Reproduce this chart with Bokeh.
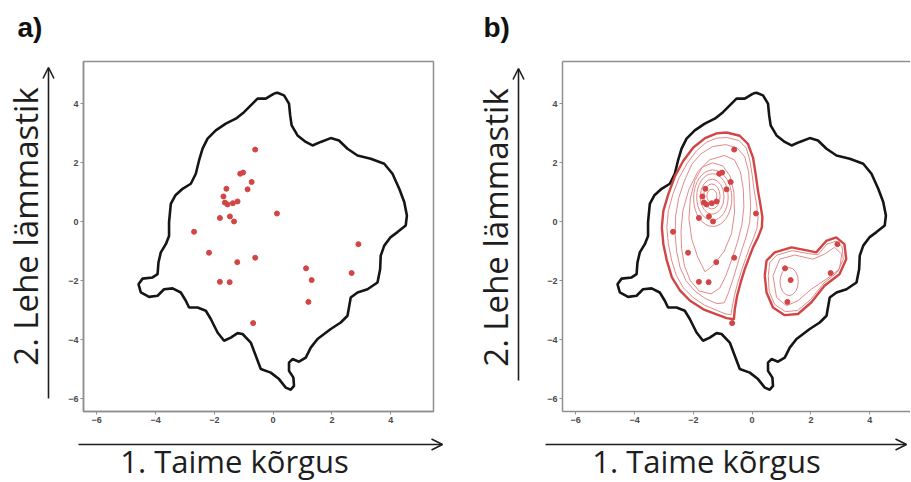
import math
from bokeh.plotting import figure
from bokeh.layouts import row, column
from bokeh.models import Range1d, FixedTicker, LinearAxis, Arrow, OpenHead, Label
from bokeh.embed import file_html
from bokeh.resources import INLINE

# ---------------- data ----------------
tick_values = [-6, -4, -2, 0, 2, 4]

pt_x = [-0.61, -1.12, -1.02, -0.73, -0.87, -1.59, -1.69, -1.64, -1.55, -1.37, -1.21,
        -1.81, -1.47, -1.33, 0.13, -2.69, -2.18, -1.22, -0.61, -1.81, -1.48, -0.68,
        1.12, 1.31, 1.20, 2.67, 2.90]
pt_y = [2.45, 1.63, 1.67, 1.35, 1.10, 1.12, 0.86, 0.65, 0.59, 0.63, 0.69,
        0.13, 0.18, 0.01, 0.28, -0.34, -1.05, -1.37, -1.22, -2.04, -2.05, -3.44,
        -1.58, -1.98, -2.72, -1.74, -0.76]

hull_x = [0.03, 0.15, 0.37, 0.54, 0.58, 0.63, 0.83, 1.11, 1.34, 1.62, 1.96, 2.24, 2.53, 2.87,
          3.32, 3.78, 4.06, 4.29, 4.46, 4.55, 4.51, 4.23, 4.00, 3.78, 3.66, 3.64, 3.55, 3.21,
          2.87, 2.64, 2.59, 2.53, 2.30, 1.96, 1.51, 1.28, 1.11, 0.88, 0.66, 0.54, 0.54, 0.69,
          0.71, 0.60, 0.43, 0.20, -0.08, -0.42, -0.59, -0.76, -1.04, -1.21, -1.44, -1.67, -1.89,
          -2.12, -2.29, -2.57, -2.86, -2.97, -3.14, -3.42, -3.71, -3.93, -4.22, -4.50, -4.58,
          -4.44, -4.10, -3.93, -3.90, -3.82, -3.65, -3.54, -3.54, -3.48, -3.33, -3.08, -2.80,
          -2.63, -2.52, -2.40, -2.23, -1.95, -1.61, -1.27, -0.99, -0.70, -0.53, -0.25, 0.03]
hull_y = [4.35, 4.38, 4.29, 4.01, 3.61, 3.27, 2.93, 2.71, 2.59, 2.71, 2.84, 2.76, 2.48, 2.25,
          2.14, 1.97, 1.63, 1.12, 0.67, 0.21, -0.13, -0.35, -0.52, -0.81, -1.15, -1.61, -2.06,
          -2.29, -2.40, -2.57, -2.85, -3.19, -3.42, -3.64, -3.98, -4.27, -4.61, -4.75, -4.66,
          -4.78, -5.06, -5.29, -5.57, -5.70, -5.63, -5.34, -5.12, -5.00, -4.55, -4.10, -3.81,
          -3.78, -3.93, -4.04, -3.76, -3.30, -3.02, -2.91, -2.91, -2.68, -2.40, -2.26, -2.29,
          -2.51, -2.55, -2.40, -2.12, -1.93, -1.89, -1.78, -1.38, -1.04, -0.76, -0.48, -0.01,
          0.61, 0.89, 1.12, 1.29, 1.63, 2.08, 2.48, 2.82, 3.10, 3.33, 3.50, 3.72, 4.01, 4.18,
          4.18, 4.35]

# left cluster, outer (thick) contour
c1_x = [-0.87, -0.42, -0.14, 0.03, 0.12, 0.20, 0.28, 0.35, 0.33, 0.20, 0.03, -0.10, -0.25,
        -0.39, -0.51, -0.59, -0.62, -0.87, -1.21, -1.66, -2.11, -2.45, -2.73, -2.90, -3.02,
        -3.07, -3.02, -2.85, -2.62, -2.34, -2.00, -1.60, -1.21, -0.87]
c1_y = [3.03, 2.92, 2.64, 2.18, 1.62, 1.05, 0.60, 0.15, -0.19, -0.53, -0.87, -1.21, -1.61,
        -2.06, -2.51, -2.97, -3.31, -3.27, -3.14, -2.97, -2.68, -2.34, -1.89, -1.32, -0.76,
        -0.19, 0.37, 0.94, 1.56, 2.07, 2.52, 2.84, 3.00, 3.03]
# left cluster, inner (thin) contours
c2_x = [-0.87, -0.45, -0.20, -0.08, 0.00, 0.07, 0.15, 0.20, 0.17, 0.05, -0.10, -0.22, -0.36,
        -0.50, -0.60, -0.68, -0.72, -0.90, -1.22, -1.62, -2.02, -2.34, -2.58, -2.74, -2.85,
        -2.90, -2.85, -2.70, -2.48, -2.20, -1.90, -1.55, -1.20, -0.87]
c2_y = [2.86, 2.76, 2.50, 2.10, 1.60, 1.05, 0.60, 0.15, -0.20, -0.55, -0.90, -1.25, -1.65,
        -2.10, -2.50, -2.90, -3.15, -3.13, -3.00, -2.83, -2.56, -2.24, -1.82, -1.30, -0.75,
        -0.20, 0.37, 0.92, 1.50, 2.00, 2.40, 2.70, 2.84, 2.86]
c3_x = [-0.90, -0.50, -0.25, -0.12, -0.08, -0.05, -0.08, -0.20, -0.35, -0.50, -0.65, -0.80,
        -0.95, -1.20, -1.60, -1.95, -2.25, -2.45, -2.57, -2.62, -2.60, -2.50, -2.30, -2.05,
        -1.75, -1.35, -0.90]
c3_y = [2.62, 2.50, 2.20, 1.70, 1.10, 0.50, 0.00, -0.50, -0.95, -1.45, -1.95, -2.40, -2.75,
        -2.78, -2.60, -2.35, -2.00, -1.55, -1.00, -0.40, 0.20, 0.80, 1.40, 1.95, 2.30, 2.55,
        2.62]
c4_x = [-0.95, -0.60, -0.40, -0.30, -0.28, -0.35, -0.50, -0.70, -0.90, -1.10, -1.40, -1.80,
        -2.10, -2.30, -2.40, -2.42, -2.35, -2.15, -1.85, -1.45, -0.95]
c4_y = [2.25, 2.10, 1.70, 1.10, 0.50, -0.10, -0.70, -1.30, -1.85, -2.25, -2.45, -2.35, -2.00,
        -1.50, -0.90, -0.30, 0.40, 1.10, 1.70, 2.10, 2.25]
c5_x = [-1.60, -1.30, -0.95, -0.70, -0.60, -0.62, -0.75, -1.00, -1.35, -1.70, -1.95, -2.10,
        -2.15, -2.05, -1.85, -1.60]
c5_y = [-1.70, -1.45, -1.00, -0.40, 0.30, 1.00, 1.55, 1.90, 2.00, 1.85, 1.40, 0.80, 0.10,
        -0.60, -1.20, -1.70]
# concentric rings around the densest spot
ring_x = [-1.37, -1.37, -1.36, -1.35, -1.34]
ring_y = [0.88, 0.86, 0.85, 0.84, 0.80]
ring_w = [0.34, 0.56, 0.81, 1.07, 1.30]
ring_h = [0.45, 0.85, 1.19, 1.58, 1.92]

# right cluster contours
r1_x = [0.43, 0.49, 0.77, 1.34, 1.90, 2.18, 2.52, 2.86, 3.14, 3.20, 2.97, 2.46, 2.01, 1.56,
        1.11, 0.71, 0.49, 0.43]
r1_y = [-1.83, -1.32, -1.04, -0.87, -0.98, -1.04, -0.65, -0.53, -0.76, -1.27, -1.78, -2.17,
        -2.74, -3.13, -3.17, -2.91, -2.40, -1.83]
r2_x = [0.55, 0.60, 0.85, 1.36, 1.92, 2.24, 2.54, 2.85, 3.06, 3.10, 2.90, 2.44, 1.99, 1.55,
        1.13, 0.77, 0.58, 0.55]
r2_y = [-1.83, -1.38, -1.13, -0.98, -1.08, -1.12, -0.76, -0.66, -0.84, -1.28, -1.71, -2.08,
        -2.64, -3.01, -3.05, -2.81, -2.37, -1.83]
r3_x = [0.71, 0.94, 1.45, 2.07, 2.46, 2.80, 3.05, 2.97, 2.52, 2.01, 1.56, 1.17, 0.83, 0.71]
r3_y = [-1.83, -1.27, -1.13, -1.27, -1.10, -0.87, -1.10, -1.61, -1.95, -2.29, -2.68, -2.85,
        -2.57, -1.83]
r_ell_x = [1.26]
r_ell_y = [-2.03]
r_ell_w = [0.62]
r_ell_h = [0.95]

# ---------------- styling / geometry ----------------
RED = "#d24545"
RED_THIN = "#e28a8a"
FRAME = "#8f8f8f"
TXT = "#1e1e1e"
BIG_FONT = "Open Sans"
X_SIZE = "31px"
Y_SIZE = "33px"

X0, Y0, Y1 = -6.45, -6.44, 5.44
FRAME_PX = 350
SX = FRAME_PX / 11.905
TOP_H = 430          # height of the upper row (panel + side strip)
BOT_H = 51           # height of the bottom strip


def style_axis(ax):
    ax.ticker = FixedTicker(ticks=tick_values)
    ax.major_tick_in = 0
    ax.major_tick_out = 3
    ax.minor_tick_line_color = None
    ax.axis_line_color = FRAME
    ax.axis_line_width = 1.5
    ax.major_tick_line_color = FRAME
    ax.major_label_text_font = "Liberation Sans"
    ax.major_label_text_font_size = "9px"
    ax.major_label_text_font_style = "bold"
    ax.major_label_text_color = "#4a4a4a"
    ax.major_label_standoff = 2


def panel(frame_w, border_left, border_right, full_outline):
    p = figure(frame_width=frame_w, frame_height=FRAME_PX,
               x_range=Range1d(X0, X0 + frame_w / SX), y_range=Range1d(Y0, Y1),
               min_border_left=border_left, min_border_right=border_right,
               min_border_top=61, min_border_bottom=TOP_H - 61 - FRAME_PX,
               output_backend="svg", toolbar_location=None, title=None,
               frame_align=False)
    p.grid.visible = False
    for ax in p.axis:
        style_axis(ax)
    if full_outline:
        p.outline_line_color = FRAME
        p.outline_line_width = 1.5
    else:
        p.outline_line_color = None
        top = LinearAxis(ticker=FixedTicker(ticks=[]), minor_tick_line_color=None,
                         major_tick_line_color=None, axis_line_color=FRAME,
                         axis_line_width=1.5)
        p.add_layout(top, "above")
    p.line(hull_x, hull_y, line_color="#151515", line_width=2.6)
    return p


def strip(w, h):
    s = figure(width=w, height=h, x_range=Range1d(0, w), y_range=Range1d(0, h),
               min_border=0, x_axis_location=None, y_axis_location=None,
               output_backend="svg", toolbar_location=None, title=None,
               frame_align=False)
    s.grid.visible = False
    s.outline_line_color = None
    return s


def arrow(s, x0, y0, x1, y1):
    s.add_layout(Arrow(x_start=x0, y_start=y0, x_end=x1, y_end=y1,
                       line_color=TXT, line_width=1.6,
                       end=OpenHead(size=11, line_color=TXT, line_width=1.6)))


def big_label(s, x, y, text, size, angle=0.0):
    s.add_layout(Label(x=x, y=y, text=text, angle=angle, text_align="center",
                       text_baseline="alphabetic", text_font=BIG_FONT,
                       text_font_size=size, text_color=TXT))


def tag(s, x, y, text):
    s.add_layout(Label(x=x, y=y, text=text, text_align="left", text_baseline="alphabetic",
                       text_font="Liberation Sans", text_font_style="bold",
                       text_font_size="28px", text_color="#111111"))


# ---------------- panel a ----------------
pa = panel(FRAME_PX, 20, 32, True)          # canvas x 63..465, frame 83..433
pa.scatter(pt_x, pt_y, size=5, fill_color=RED, line_color=RED)

la = strip(63, TOP_H)                        # canvas x 0..63, y 0..430
tag(la, 17, TOP_H - 27, "a)")
big_label(la, 25, TOP_H - 226, "2. Lehe lämmastik", Y_SIZE, angle=math.pi / 2)
arrow(la, 48, TOP_H - 398, 48, TOP_H - 67)

ba = strip(465, BOT_H)                       # canvas x 0..465, y 430..481
arrow(ba, 78, BOT_H - 14, 442, BOT_H - 14)
big_label(ba, 234, BOT_H - 30, "1. Taime kõrgus", X_SIZE)

# ---------------- panel b ----------------
pb = panel(348, 32, 0, False)                # canvas x 530..910, frame 562..910
pb.multi_line([c2_x, c3_x, c4_x, c5_x, r2_x, r3_x], [c2_y, c3_y, c4_y, c5_y, r2_y, r3_y],
              line_color=RED_THIN, line_width=1.0)
pb.ellipse(ring_x, ring_y, width=ring_w, height=ring_h, fill_color=None,
           line_color=RED_THIN, line_width=1.0)
pb.ellipse(r_ell_x, r_ell_y, width=r_ell_w, height=r_ell_h, fill_color=None,
           line_color=RED_THIN, line_width=1.0)
pb.line(c1_x, c1_y, line_color=RED, line_width=2.4)
pb.line(r1_x, r1_y, line_color=RED, line_width=2.4)
pb.scatter(pt_x, pt_y, size=5, fill_color=RED, line_color=RED)

lb = strip(65, TOP_H)                        # canvas x 465..530
tag(lb, 483 - 465, TOP_H - 27, "b)")
big_label(lb, 495 - 465, TOP_H - 227, "2. Lehe lämmastik", Y_SIZE, angle=math.pi / 2)
arrow(lb, 518 - 465, TOP_H - 380, 518 - 465, TOP_H - 68)

bb = strip(445, BOT_H)                       # canvas x 465..910
arrow(bb, 545 - 465, BOT_H - 14, 906 - 465, BOT_H - 14)
big_label(bb, 706 - 465, BOT_H - 30, "1. Taime kõrgus", X_SIZE)

layout = row(column(row(la, pa), ba), column(row(lb, pb), bb))

open("out.html", "w").write(file_html(layout, INLINE))
